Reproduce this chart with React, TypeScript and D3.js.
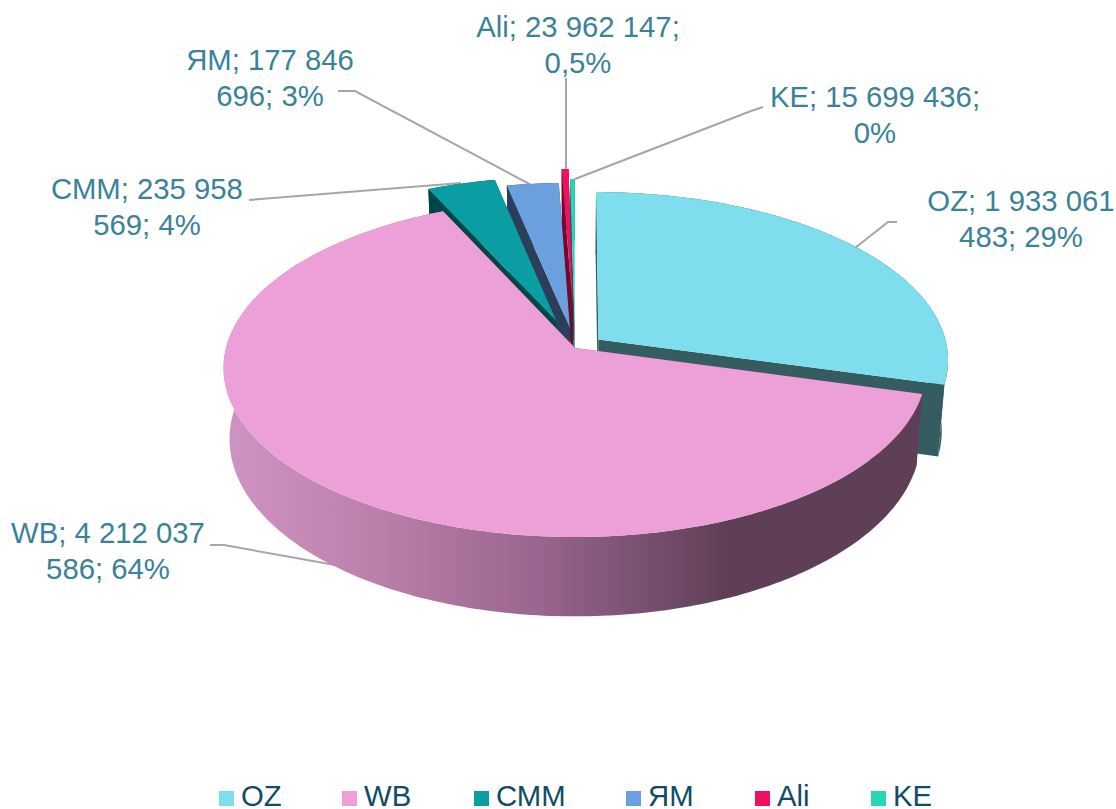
import React from 'react';
import * as d3 from 'd3';

const categories = ['OZ', 'WB', 'СММ', 'ЯМ', 'Ali', 'KE'];
const values = [1933061483, 4212037586, 235958569, 177846696, 23962147, 15699436];
const explode = [0.085, 0, 0.175, 0.123, 0.229, 0.151];
const labelLines = [
  ['OZ; 1 933 061', '483; 29%'],
  ['WB; 4 212 037', '586; 64%'],
  ['СММ; 235 958', '569; 4%'],
  ['ЯМ; 177 846', '696; 3%'],
  ['Ali; 23 962 147;', '0,5%'],
  ['KE; 15 699 436;', '0%'],
];
const topColors = ['#7FDEED', '#EDA0D8', '#0A9EA2', '#6BA0DE', '#EF1062', '#27D6B6'];
const wallColors = ['#355C60', 'url(#wbWall)', '#004648', '#2C3F5A', '#6E0A33', '#0E6B5A'];

// label layout: centre of text, first baseline, leader polyline
const labelPos = [
  { x: 1021, y: 211, leader: [[897, 222], [888, 222], [855, 248]] },
  { x: 108, y: 543, leader: [[210, 545], [224, 545], [335, 565]] },
  { x: 147, y: 199, leader: [[249, 200], [461, 183]] },
  { x: 270, y: 70, leader: [[338, 91], [355, 91], [533, 186]] },
  { x: 578, y: 37, leader: [[566, 78], [566, 169]] },
  { x: 875, y: 107, leader: [[763, 107], [751, 111], [575, 179]] },
];
const legendX = [241, 364, 496, 648, 777, 893];

const width = 1116;
const height = 809;
const cx = 575;
const cy = 348;
const R = 349;
const flat = 166.7; // vertical radius of the projected plate
const persp = 0.118;
const depth = 70;
const shrink = 0.017;

const labelColor = '#3A8299';
const legendColor = '#0F4C66';
const font = '"Liberation Sans", Arial, sans-serif';

// pie plane (u right, v towards viewer) to screen, z = 0 top face, 1 bottom face
function project(u: number, v: number, z: number): [number, number] {
  const w = 1 - persp * v;
  const x = cx + ((R * u) / w) * (1 - shrink * z);
  const y = cy + (flat * v) / w + (depth / w) * z;
  return [x, y];
}

const line = d3.line();

export default function App() {
  const arcs = d3.pie<number>().sort(null)(values);
  const color = d3.scaleOrdinal<number, string>().domain(d3.range(values.length)).range(topColors);

  const slices = arcs.map((a, i) => {
    const mid = (a.startAngle + a.endAngle) / 2;
    const ou = Math.sin(mid) * explode[i];
    const ov = -Math.cos(mid) * explode[i];
    const pt = (t: number, r: number, z: number) =>
      project(ou + r * Math.sin(t), ov - r * Math.cos(t), z);
    const n = Math.max(3, Math.ceil((a.endAngle - a.startAngle) * 60));
    const angles = d3.range(n + 1).map((k) => a.startAngle + ((a.endAngle - a.startAngle) * k) / n);

    const top = line([pt(0, 0, 0), ...angles.map((t) => pt(t, 1, 0))]) + 'Z';
    const outer =
      line([
        ...angles.map((t) => pt(t, 1, 0)),
        ...angles.slice().reverse().map((t) => pt(t, 1, 1)),
      ]) + 'Z';
    const radial = (t: number) => line([pt(0, 0, 0), pt(t, 1, 0), pt(t, 1, 1), pt(0, 0, 1)]) + 'Z';
    return { i, top, walls: [radial(a.startAngle), outer, radial(a.endAngle)] };
  });

  // painted right to left, the big near slice last
  const order = [0, 5, 4, 3, 2, 1];

  return (
    <svg
      width={width}
      height={height}
      style={{ position: 'absolute', left: 0, top: 0, display: 'block', background: '#fff' }}
      fontFamily={font}
    >
      <defs>
        <linearGradient id="wbWall" gradientUnits="userSpaceOnUse" x1={225} x2={920} y1={0} y2={0}>
          <stop offset="0" stopColor="#CF93C2" />
          <stop offset="0.2" stopColor="#BC82AC" />
          <stop offset="0.45" stopColor="#9A658E" />
          <stop offset="0.72" stopColor="#5F3F57" />
          <stop offset="1" stopColor="#5F3F57" />
        </linearGradient>
      </defs>

      {labelPos.map((p, i) => (
        <path
          key={i}
          d={line(p.leader as [number, number][]) || ''}
          fill="none"
          stroke="#A6A6A6"
          strokeWidth={2}
        />
      ))}

      {order.map((k) => (
        <g key={k}>
          {slices[k].walls.map((d, j) => (
            <path key={j} d={d} fill={wallColors[k]} />
          ))}
          <path d={slices[k].top} fill={color(k)} />
        </g>
      ))}

      {labelLines.map((ls, i) =>
        ls.map((t, j) => (
          <text
            key={j}
            x={labelPos[i].x}
            y={labelPos[i].y + j * 35.5}
            textAnchor="middle"
            fontSize={29.3}
            fill={labelColor}
          >
            {t}
          </text>
        ))
      )}

      {categories.map((c, i) => (
        <g key={c}>
          <rect x={legendX[i] - 22} y={791} width={15} height={15} fill={color(i)} />
          <text x={legendX[i]} y={806} fontSize={29.3} fill={legendColor}>
            {c}
          </text>
        </g>
      ))}
    </svg>
  );
}
